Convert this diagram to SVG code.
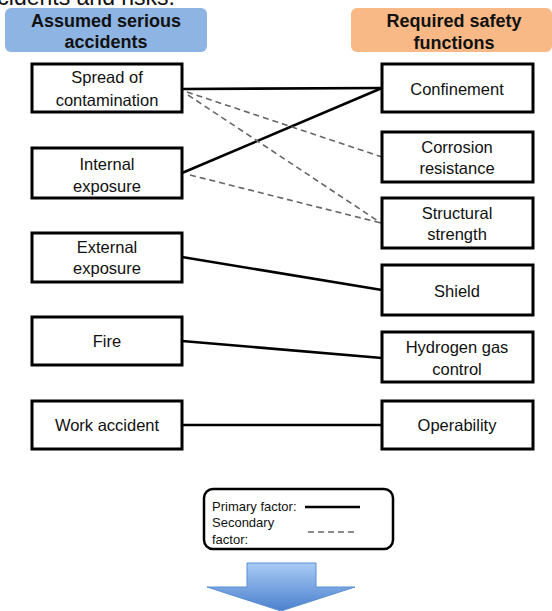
<svg xmlns="http://www.w3.org/2000/svg" width="552" height="611" viewBox="0 0 552 611">
  <defs>
    <linearGradient id="arrowFill" x1="0" y1="0" x2="0" y2="1">
      <stop offset="0" stop-color="#a9cbf6"/>
      <stop offset="1" stop-color="#4a80cc"/>
    </linearGradient>
    <style>
      .box { fill: #ffffff; stroke: #000000; stroke-width: 3; }
      .lbl { font-family: "Liberation Sans", Arial, sans-serif; font-size: 16.5px; fill: #111111; text-anchor: middle; }
      .hdr { font-family: "Liberation Sans", Arial, sans-serif; font-size: 18px; font-weight: bold; fill: #111111; text-anchor: middle; }
      .primary { stroke: #000000; stroke-width: 2.6; fill: none; }
      .secondary { stroke: #666666; stroke-width: 1.6; stroke-dasharray: 6 4; fill: none; }
      .leg { font-family: "Liberation Sans", Arial, sans-serif; font-size: 13px; fill: #111111; }
    </style>
  </defs>

  <rect width="552" height="611" fill="#ffffff"/>

  <!-- caption line above, clipped at the top edge -->
  <text x="175" y="5" font-family="Liberation Sans, Arial, sans-serif" font-size="23" fill="#111111" text-anchor="end">accidents and risks.</text>

  <!-- column headers -->
  <g id="header-accidents">
    <rect x="5" y="8" width="202" height="44" rx="6" fill="#8db4e3"/>
    <text class="hdr" x="106" y="27">Assumed serious</text>
    <text class="hdr" x="106" y="48">accidents</text>
  </g>
  <g id="header-functions">
    <rect x="351" y="8" width="201" height="44" rx="6" fill="#f9b986"/>
    <text class="hdr" x="454" y="27">Required safety</text>
    <text class="hdr" x="454" y="49">functions</text>
  </g>

  <!-- connectors -->
  <g id="connectors">
    <line class="primary" x1="182" y1="89" x2="382" y2="88"/>
    <line class="primary" x1="182" y1="173" x2="382" y2="88"/>
    <line class="primary" x1="182" y1="257" x2="382" y2="290"/>
    <line class="primary" x1="182" y1="341" x2="382" y2="358"/>
    <line class="primary" x1="182" y1="425" x2="382" y2="425"/>
    <line class="secondary" x1="187" y1="92" x2="382" y2="157"/>
    <line class="secondary" x1="188" y1="95" x2="381" y2="223"/>
    <line class="secondary" x1="190" y1="175" x2="381" y2="223"/>
  </g>

  <!-- accident nodes -->
  <g id="spread">
    <rect class="box" x="32" y="64" width="150" height="48"/>
    <text class="lbl" x="107" y="83">Spread of</text>
    <text class="lbl" x="107" y="106">contamination</text>
  </g>
  <g id="internal">
    <rect class="box" x="32" y="148" width="150" height="50"/>
    <text class="lbl" x="107" y="170">Internal</text>
    <text class="lbl" x="107" y="192">exposure</text>
  </g>
  <g id="external">
    <rect class="box" x="32" y="233" width="150" height="49"/>
    <text class="lbl" x="107" y="253">External</text>
    <text class="lbl" x="107" y="274">exposure</text>
  </g>
  <g id="fire">
    <rect class="box" x="32" y="317" width="150" height="48"/>
    <text class="lbl" x="107" y="347">Fire</text>
  </g>
  <g id="work-accident">
    <rect class="box" x="32" y="401" width="150" height="48"/>
    <text class="lbl" x="107" y="431">Work accident</text>
  </g>

  <!-- safety function nodes -->
  <g id="confinement">
    <rect class="box" x="382" y="64" width="151" height="48"/>
    <text class="lbl" x="457" y="95">Confinement</text>
  </g>
  <g id="corrosion">
    <rect class="box" x="382" y="132" width="151" height="50"/>
    <text class="lbl" x="457" y="153">Corrosion</text>
    <text class="lbl" x="457" y="174">resistance</text>
  </g>
  <g id="structural">
    <rect class="box" x="382" y="198" width="151" height="50"/>
    <text class="lbl" x="457" y="219">Structural</text>
    <text class="lbl" x="457" y="240">strength</text>
  </g>
  <g id="shield">
    <rect class="box" x="382" y="265" width="151" height="50"/>
    <text class="lbl" x="457" y="297">Shield</text>
  </g>
  <g id="hydrogen">
    <rect class="box" x="382" y="332" width="151" height="50"/>
    <text class="lbl" x="457" y="353">Hydrogen gas</text>
    <text class="lbl" x="457" y="375">control</text>
  </g>
  <g id="operability">
    <rect class="box" x="382" y="401" width="151" height="48"/>
    <text class="lbl" x="457" y="431">Operability</text>
  </g>

  <!-- legend -->
  <g id="legend">
    <rect x="204" y="489" width="189" height="60" rx="9" fill="#ffffff" stroke="#000000" stroke-width="2.5"/>
    <text class="leg" x="212" y="511">Primary factor:</text>
    <text class="leg" x="212" y="527">Secondary</text>
    <text class="leg" x="212" y="544">factor:</text>
    <line class="primary" x1="305" y1="507" x2="360" y2="507"/>
    <line class="secondary" x1="308" y1="532" x2="358" y2="532" stroke="#999999" stroke-dasharray="5 3"/>
  </g>

  <!-- downward arrow -->
  <g id="down-arrow">
    <polygon points="247,563 316,563 316,587 355,587 281,611 207,587 247,587" fill="url(#arrowFill)" stroke="#5b8fd4" stroke-width="1"/>
  </g>
</svg>
